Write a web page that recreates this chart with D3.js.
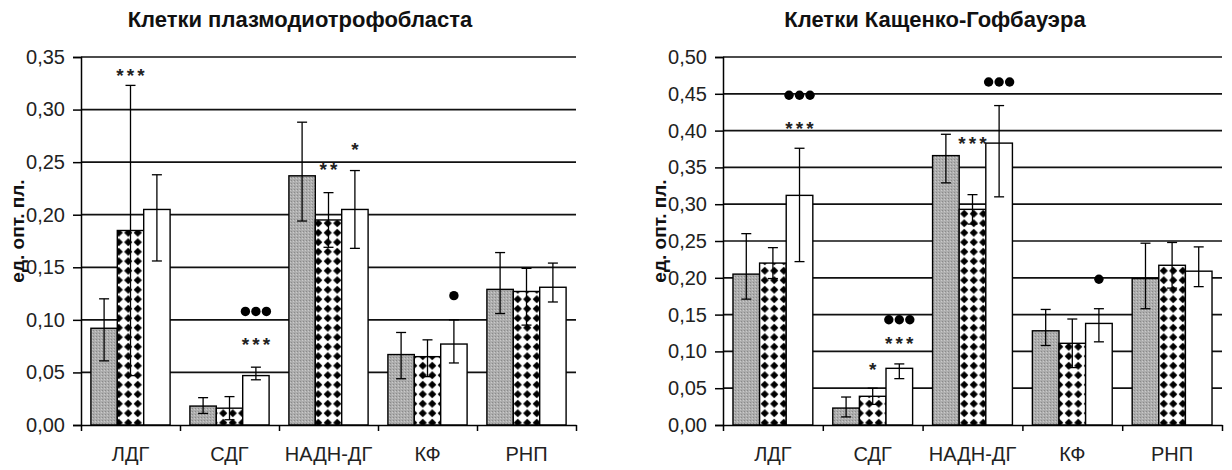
<!DOCTYPE html>
<html>
<head>
<meta charset="utf-8">
<script src="https://cdn.jsdelivr.net/npm/d3@7"></script>
<style>
  html, body { margin: 0; padding: 0; background: #fff; }
  svg { display: block; }
</style>
</head>
<body>
<svg id="chart" width="1232" height="470"></svg>
<script>
// ---------- DATA ----------
const categories = ["ЛДГ", "СДГ", "НАДН-ДГ", "КФ", "РНП"];

// Left chart: Клетки плазмодиотрофобласта
const leftTicks = [0, 0.05, 0.10, 0.15, 0.20, 0.25, 0.30, 0.35];
const leftGray      = [0.092, 0.018, 0.237, 0.067, 0.129];
const leftGrayHi    = [0.120, 0.026, 0.288, 0.088, 0.164];
const leftGrayLo    = [0.061, 0.011, 0.194, 0.044, 0.106];
const leftDotted    = [0.185, 0.016, 0.195, 0.065, 0.127];
const leftDottedHi  = [0.323, 0.027, 0.221, 0.081, 0.149];
const leftDottedLo  = [0.047, 0.005, 0.169, 0.046, 0.095];
const leftWhite     = [0.205, 0.047, 0.205, 0.077, 0.131];
const leftWhiteHi   = [0.238, 0.055, 0.242, 0.100, 0.154];
const leftWhiteLo   = [0.156, 0.043, 0.168, 0.059, 0.117];
const leftMarks = [
  { cat: "ЛДГ",     s: 1, v: 0.337, mark: "***" },
  { cat: "СДГ",     s: 2, v: 0.108, mark: "●●●" },
  { cat: "СДГ",     s: 2, v: 0.081, mark: "***" },
  { cat: "НАДН-ДГ", s: 1, v: 0.247, mark: "**" },
  { cat: "НАДН-ДГ", s: 2, v: 0.266, mark: "*" },
  { cat: "КФ",      s: 2, v: 0.123, mark: "●" }
];

// Right chart: Клетки Кащенко-Гофбауэра
const rightTicks = [0, 0.05, 0.10, 0.15, 0.20, 0.25, 0.30, 0.35, 0.40, 0.45, 0.50];
const rightGray     = [0.205, 0.023, 0.366, 0.128, 0.199];
const rightGrayHi   = [0.260, 0.038, 0.395, 0.157, 0.247];
const rightGrayLo   = [0.171, 0.011, 0.329, 0.108, 0.158];
const rightDotted   = [0.220, 0.039, 0.293, 0.111, 0.217];
const rightDottedHi = [0.241, 0.050, 0.313, 0.144, 0.248];
const rightDottedLo = [0.199, 0.028, 0.273, 0.078, 0.186];
const rightWhite    = [0.312, 0.077, 0.383, 0.138, 0.209];
const rightWhiteHi  = [0.376, 0.083, 0.434, 0.158, 0.242];
const rightWhiteLo  = [0.222, 0.063, 0.310, 0.113, 0.188];
const rightMarks = [
  { cat: "ЛДГ",     s: 2, v: 0.448, mark: "●●●" },
  { cat: "ЛДГ",     s: 2, v: 0.409, mark: "***" },
  { cat: "СДГ",     s: 1, v: 0.082, mark: "*" },
  { cat: "СДГ",     s: 2, v: 0.143, mark: "●●●" },
  { cat: "СДГ",     s: 2, v: 0.117, mark: "***" },
  { cat: "НАДН-ДГ", s: 1, v: 0.389, mark: "***" },
  { cat: "НАДН-ДГ", s: 2, v: 0.466, mark: "●●●" },
  { cat: "КФ",      s: 2, v: 0.198, mark: "●" }
];

const yTitle = "ед. опт. пл.";
const fmt = d => d.toFixed(2).replace(".", ",");

// ---------- DRAW ----------
const svg = d3.select("#chart");
const FONT = "'Liberation Sans', Arial, sans-serif";

// patterns
const defs = svg.append("defs");
const P = 9.5, D = 4.1;
const pat = defs.append("pattern").attr("id", "dots")
  .attr("patternUnits", "userSpaceOnUse").attr("width", P).attr("height", P);
pat.append("rect").attr("width", P).attr("height", P).attr("fill", "#fff");
pat.append("path")
  .attr("d", `M${P/2},${P/2 - D} L${P/2 + D},${P/2} L${P/2},${P/2 + D} L${P/2 - D},${P/2} Z`)
  .attr("fill", "#000");

const gpat = defs.append("pattern").attr("id", "gray")
  .attr("patternUnits", "userSpaceOnUse").attr("width", 3).attr("height", 3);
gpat.append("rect").attr("width", 3).attr("height", 3).attr("fill", "#adadad");
gpat.append("rect").attr("x", 0).attr("y", 0).attr("width", 1).attr("height", 1).attr("fill", "#8a8a8a");
gpat.append("rect").attr("x", 2).attr("y", 1).attr("width", 1).attr("height", 1).attr("fill", "#cacaca");

const fills = ["url(#gray)", "url(#dots)", "#ffffff"];

function drawChart(cfg) {
  const { x0, x1, yTop, yBot, max, ticks, title, titleX, series, marks } = cfg;
  const g = svg.append("g");

  const x = d3.scaleBand().domain(categories).range([x0, x1]).paddingInner(0).paddingOuter(0);
  const xs = d3.scaleBand().domain([0, 1, 2]).range([x.bandwidth() * 0.1, x.bandwidth() * 0.9]).padding(0);
  const y = d3.scaleLinear().domain([0, max]).range([yBot, yTop]);

  // gridlines
  g.append("g").selectAll("line").data(ticks.filter(t => t > 0)).join("line")
    .attr("x1", x0).attr("x2", x1)
    .attr("y1", d => y(d)).attr("y2", d => y(d))
    .attr("stroke", "#111").attr("stroke-width", 1.7);

  // bars
  series.forEach((s, si) => {
    g.append("g").selectAll("rect").data(categories).join("rect")
      .attr("x", c => x(c) + xs(si))
      .attr("y", (c, i) => y(s.vals[i]))
      .attr("width", xs.bandwidth())
      .attr("height", (c, i) => y(0) - y(s.vals[i]))
      .attr("fill", fills[si])
      .attr("stroke", "#000").attr("stroke-width", 1.4);
  });

  // error bars
  series.forEach((s, si) => {
    const eg = g.append("g").attr("stroke", "#000").attr("stroke-width", 1.3);
    categories.forEach((c, i) => {
      const cx = x(c) + xs(si) + xs.bandwidth() / 2;
      eg.append("line").attr("x1", cx).attr("x2", cx).attr("y1", y(s.hi[i])).attr("y2", y(s.lo[i]));
      eg.append("line").attr("x1", cx - 5).attr("x2", cx + 5).attr("y1", y(s.hi[i])).attr("y2", y(s.hi[i]));
      eg.append("line").attr("x1", cx - 5).attr("x2", cx + 5).attr("y1", y(s.lo[i])).attr("y2", y(s.lo[i]));
    });
  });

  // y axis
  const ya = g.append("g").attr("transform", `translate(${x0},0)`)
    .call(d3.axisLeft(y).tickValues(ticks).tickFormat(fmt).tickSize(8).tickPadding(8));
  ya.select(".domain").attr("stroke", "#000").attr("stroke-width", 1.5);
  ya.selectAll(".tick line").attr("stroke", "#000").attr("stroke-width", 1.5);
  ya.selectAll("text").attr("font-family", FONT).attr("font-size", 20).attr("fill", "#222");

  // x axis: boundary ticks
  const xb = d3.scaleLinear().domain([0, categories.length]).range([x0, x1]);
  const xa = g.append("g").attr("transform", `translate(0,${yBot})`)
    .call(d3.axisBottom(xb).ticks(categories.length).tickFormat("").tickSize(6).tickSizeOuter(0));
  xa.select(".domain").attr("stroke", "#000").attr("stroke-width", 1.5);
  xa.selectAll(".tick line").attr("stroke", "#000").attr("stroke-width", 1.5);

  // x labels
  const xl = g.append("g").attr("transform", `translate(0,${yBot})`)
    .call(d3.axisBottom(x).tickSize(0).tickPadding(22));
  xl.select(".domain").remove();
  xl.selectAll("text").attr("font-family", FONT).attr("font-size", 20).attr("fill", "#222");

  // significance marks
  marks.forEach(m => {
    const cx = x(m.cat) + xs(m.s) + xs.bandwidth() / 2;
    const cy = y(m.v);
    const chars = Array.from(m.mark);
    const n = chars.length;
    chars.forEach((ch, k) => {
      const px = cx + (k - (n - 1) / 2) * 10.5;
      if (ch === "●") {
        g.append("circle").attr("cx", px).attr("cy", cy).attr("r", 4.7).attr("fill", "#000");
      } else {
        g.append("text").attr("x", px).attr("y", cy + 11).attr("text-anchor", "middle")
          .attr("font-family", FONT).attr("font-weight", "bold").attr("font-size", 19)
          .attr("fill", "#222").text(ch);
      }
    });
  });

  // title
  g.append("text").attr("x", titleX).attr("y", 27).attr("text-anchor", "middle")
    .attr("font-family", FONT).attr("font-weight", "bold").attr("font-size", 22)
    .attr("fill", "#111").text(title);

  // y title
  g.append("text").attr("transform", `translate(${x0 - 57},${(yTop + yBot) / 2 - 10}) rotate(-90)`)
    .attr("text-anchor", "middle").attr("font-family", FONT).attr("font-weight", "bold")
    .attr("font-size", 19).attr("fill", "#111").text(yTitle);
}

drawChart({
  x0: 81, x1: 576, yTop: 57, yBot: 425, max: 0.35, ticks: leftTicks,
  title: "Клетки плазмодиотрофобласта", titleX: 300,
  series: [
    { vals: leftGray, hi: leftGrayHi, lo: leftGrayLo },
    { vals: leftDotted, hi: leftDottedHi, lo: leftDottedLo },
    { vals: leftWhite, hi: leftWhiteHi, lo: leftWhiteLo }
  ],
  marks: leftMarks
});

drawChart({
  x0: 723, x1: 1222, yTop: 57, yBot: 425, max: 0.50, ticks: rightTicks,
  title: "Клетки Кащенко-Гофбауэра", titleX: 935,
  series: [
    { vals: rightGray, hi: rightGrayHi, lo: rightGrayLo },
    { vals: rightDotted, hi: rightDottedHi, lo: rightDottedLo },
    { vals: rightWhite, hi: rightWhiteHi, lo: rightWhiteLo }
  ],
  marks: rightMarks
});
</script>
</body>
</html>
